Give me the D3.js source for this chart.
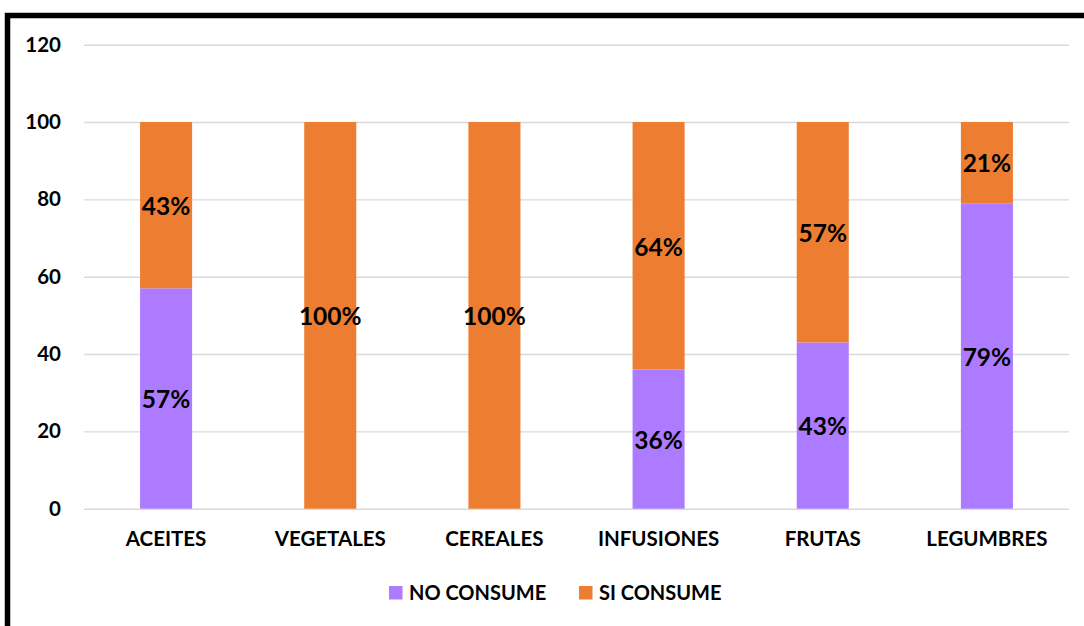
<!DOCTYPE html>
<html>
<head>
<meta charset="utf-8">
<script src="https://cdn.jsdelivr.net/npm/d3@7"></script>
<style>
  html, body { margin: 0; padding: 0; background: #fff; }
  svg { display: block; font-family: Lato, "Open Sans", sans-serif; font-weight: 700; }
</style>
</head>
<body>
<svg id="chart" width="1084" height="626"></svg>
<script>
// Food groups and consumption shares (%)
const categories = ["ACEITES", "VEGETALES", "CEREALES", "INFUSIONES", "FRUTAS", "LEGUMBRES"];
const noConsume = [57, 0, 0, 36, 43, 79];
const siConsume = [43, 100, 100, 64, 57, 21];
const seriesNames = ["NO CONSUME", "SI CONSUME"];
const seriesColors = ["#AD7BFF", "#ED7D31"];
const yTicks = [0, 20, 40, 60, 80, 100, 120];

const svg = d3.select("#chart");
const W = 1084, H = 626;
const plot = { left: 84, right: 1069, top: 44.7, bottom: 508.7 };

// Outer frame
svg.append("rect")
  .attr("x", 7.5).attr("y", 15.5)
  .attr("width", W + 20).attr("height", H + 20)
  .attr("fill", "none").attr("stroke", "#000").attr("stroke-width", 5.5);

const x = d3.scaleBand()
  .domain(categories)
  .range([plot.left, plot.right])
  .paddingInner(0.683)
  .paddingOuter(0.683 / 2);

const y = d3.scaleLinear().domain([0, 120]).range([plot.bottom, plot.top]);

// Gridlines + y tick labels
const yAxis = svg.append("g")
  .attr("transform", `translate(${plot.left},0)`)
  .call(d3.axisLeft(y).tickValues(yTicks).tickSize(-(plot.right - plot.left)).tickPadding(23));
yAxis.select(".domain").remove();
yAxis.selectAll(".tick line").attr("stroke", "#D9D9D9").attr("stroke-width", 1.4);
yAxis.selectAll(".tick text")
  .attr("fill", "#000").attr("font-size", 20.5).attr("font-weight", 700)
  .attr("font-family", "Lato, sans-serif");

// Stacked series
const rows = categories.map((c, i) => ({ cat: c, no: noConsume[i], si: siConsume[i] }));
const stack = d3.stack().keys(["no", "si"]);
const layers = stack(rows);

const layerG = svg.append("g").selectAll("g")
  .data(layers).join("g")
  .attr("fill", (d, i) => seriesColors[i]);

layerG.selectAll("rect")
  .data(d => d).join("rect")
  .attr("x", d => x(d.data.cat))
  .attr("width", x.bandwidth())
  .attr("y", d => y(d[1]))
  .attr("height", d => y(d[0]) - y(d[1]));

// Value labels centred in each segment
const labelG = svg.append("g");
layers.forEach(layer => {
  labelG.selectAll(null)
    .data(layer.filter(d => d[1] - d[0] > 0)).join("text")
    .attr("x", d => x(d.data.cat) + x.bandwidth() / 2)
    .attr("y", d => y((d[0] + d[1]) / 2))
    .attr("dy", "0.4em")
    .attr("text-anchor", "middle")
    .attr("font-size", 24.5)
    .attr("fill", "#000")
    .text(d => (d[1] - d[0]) + "%");
});

// Category axis
const xAxis = svg.append("g")
  .attr("transform", `translate(0,${plot.bottom})`)
  .call(d3.axisBottom(x).tickSize(0).tickPadding(23));
xAxis.select(".domain").remove();
xAxis.selectAll(".tick text")
  .attr("fill", "#000").attr("font-size", 20.5).attr("font-weight", 700)
  .attr("font-family", "Lato, sans-serif");

// Legend
const legendItems = [
  { name: seriesNames[0], color: seriesColors[0], x: 389 },
  { name: seriesNames[1], color: seriesColors[1], x: 579 }
];
const legend = svg.append("g");
legendItems.forEach(it => {
  legend.append("rect")
    .attr("x", it.x).attr("y", 586).attr("width", 13.5).attr("height", 13.5)
    .attr("fill", it.color);
  legend.append("text")
    .attr("x", it.x + 20).attr("y", 600)
    .attr("font-size", 20).attr("fill", "#000")
    .text(it.name);
});
</script>
</body>
</html>
